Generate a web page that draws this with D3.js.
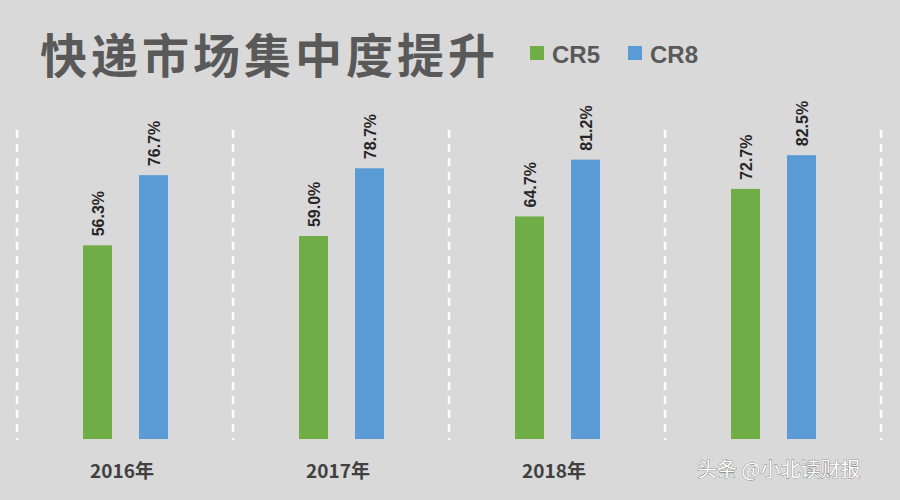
<!DOCTYPE html><html><head><meta charset="utf-8"><script src="https://cdn.jsdelivr.net/npm/d3@7"></script>
<style>body{margin:0;background:#d9d9d9}</style></head><body><svg id="c" width="900" height="500"></svg>
<script>
const categories=["2016年","2017年","2018年",""];
const cr5=[56.3,59.0,64.7,72.7];
const cr8=[76.7,78.7,81.2,82.5];
const series=["CR5","CR8"];
const colors={"CR5":"#70ad47","CR8":"#5b9bd5"};
const svg=d3.select("#c");
svg.append("rect").attr("width",900).attr("height",500).attr("fill","#d9d9d9");
const x=d3.scaleBand().domain(d3.range(4)).range([17,881]);
const y=d3.scaleLinear().domain([0,100]).range([439,95]);
d3.range(5).forEach(i=>{const xx=17+i*x.step();
 svg.append("line").attr("x1",xx).attr("x2",xx).attr("y1",130).attr("y2",440).attr("stroke","#fff").attr("stroke-width",2.5).attr("stroke-dasharray","8,6");});
const bw=29;
categories.forEach((c,i)=>{
 [[cr5[i],"CR5",66],[cr8[i],"CR8",122]].forEach(([v,s,off])=>{
  const bx=x(i)+off;
  svg.append("rect").attr("x",bx).attr("y",y(v)).attr("width",bw).attr("height",y(0)-y(v)).attr("fill",colors[s]);
  svg.append("text").attr("transform",`translate(${bx+bw/2+6},${y(v)-9}) rotate(-90)`).attr("font-family","Liberation Sans, Arial").attr("font-weight","bold").attr("font-size",16).attr("fill","#262626").text(v.toFixed(1)+"%");
 });
 svg.append("text").attr("x",x(i)+x.step()/2-3).attr("y",478).attr("text-anchor","middle").attr("font-family","Noto Sans CJK SC").attr("font-weight","bold").attr("font-size",19).attr("fill","#404040").text(c);
});
svg.append("text").attr("x",40).attr("y",73).attr("font-family","Noto Sans CJK SC").attr("font-weight","bold").attr("font-size",47).attr("letter-spacing",4).attr("fill","#595959").text("快递市场集中度提升");
[["CR5",530],["CR8",628]].forEach(([s,lx])=>{
 svg.append("rect").attr("x",lx).attr("y",46).attr("width",14).attr("height",14).attr("fill",colors[s]);
 svg.append("text").attr("x",lx+22).attr("y",63).attr("font-family","Liberation Sans, Arial").attr("font-weight","bold").attr("font-size",24).attr("fill","#595959").text(s);
});
svg.append("text").attr("x",697).attr("y",477).attr("font-family","Noto Sans CJK SC").attr("font-size",20).attr("fill","#fff").attr("stroke","#555").attr("stroke-width",0.6).attr("paint-order","stroke").text("头条 @小北读财报");
</script></body></html>
